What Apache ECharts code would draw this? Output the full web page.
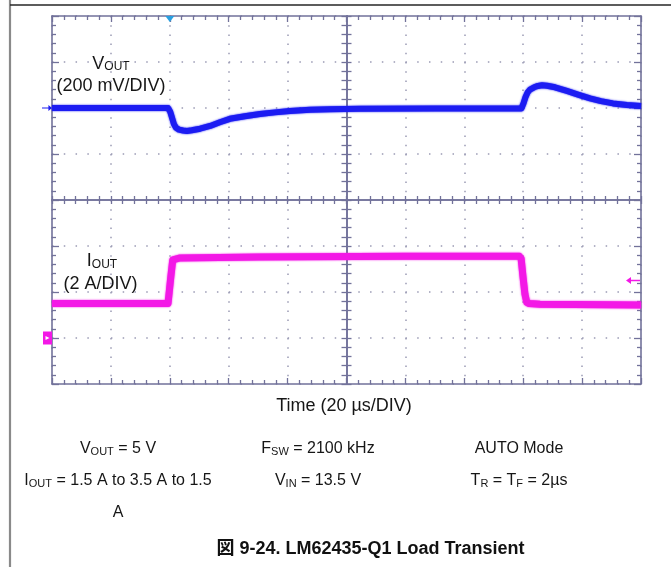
<!DOCTYPE html>
<html>
<head>
<meta charset="utf-8">
<script src="https://cdn.jsdelivr.net/npm/echarts@6/dist/echarts.min.js"></script>
<style>
  html, body { margin: 0; padding: 0; background: #ffffff; }
  #chart { width: 671px; height: 567px; }
</style>
</head>
<body>
<div id="chart"></div>
<script>
// Load-step response captured on a 10 x 8 division scope screen.
// Time base 20 us/div, VOUT 200 mV/div, IOUT 2 A/div.

// VOUT trace (time in us, output voltage in mV)
const voutTimeUs = [0, 20, 39.4, 40.1, 40.7, 41.4, 42.1, 43.1, 44.5, 45.8, 47.5, 50.3, 53.7, 57.0, 60.4, 65.5,
                    70.6, 75.7, 80.8, 87.6, 94.4, 104.6, 130, 159.4,
                    160.1, 160.8, 161.5, 162.3, 163.7, 165.0, 166.4, 168.1, 170.8, 174.8, 178.6, 182.7,
                    186.4, 190.5, 195.2, 200];
const voutMv =     [5000, 5000, 5000, 4985, 4960, 4930, 4914, 4906, 4902, 4900, 4903, 4910, 4922, 4938, 4953, 4964,
                    4974, 4981, 4987, 4992, 4995, 4997, 4998, 4998,
                    5020, 5048, 5068, 5080, 5090, 5096, 5099, 5097, 5090, 5074, 5058, 5042,
                    5030, 5020, 5013, 5009];

// IOUT trace (time in us, load current in A)
const ioutTimeUs = [0, 20, 39.4, 40.3, 41.0, 41.6, 43.5, 70, 120, 158.7, 159.3, 159.9, 160.6, 161.2, 162.0, 165.7, 200];
const ioutA =      [1.5, 1.5, 1.5, 2.6, 3.4, 3.46, 3.48, 3.52, 3.55, 3.55, 3.45, 2.7, 1.9, 1.55, 1.5, 1.47, 1.44];

// Screen scales
const timeRange = { min: 0, max: 200, interval: 20 };       // 10 divisions
const voutRange = { min: 3800, max: 5400, interval: 200 };  // 8 divisions
const ioutRange = { min: -2, max: 14, interval: 2 };        // 8 divisions
const divRange  = { min: 0, max: 8, interval: 1 };

// Channel markers
const voutRefMv = 5000;
const ioutRefA = 0;
const triggerTimeUs = 40;
const triggerLevelA = 2.5;

// Annotation text
const scopeLabels = {
  vout: ['{m|V}{s|OUT}', '{m|(200 mV/DIV)}'],
  iout: ['{m|I}{s|OUT}', '{m|(2 A/DIV)}']
};
const timeLabel = 'Time (20 µs/DIV)';
const conditionRows = [
  ['{m|V}{s|OUT}{m| = 5 V}', '{m|F}{s|SW}{m| = 2100 kHz}', '{m|AUTO Mode}'],
  ['{m|I}{s|OUT}{m| = 1.5 A to 3.5 A to 1.5}', '{m|V}{s|IN}{m| = 13.5 V}', '{m|T}{s|R}{m| = T}{s|F}{m| = 2µs}'],
  ['{m|A}', '', '']
];
const captionText = '図 9-24. LM62435-Q1 Load Transient';

const FONT = "'Liberation Sans', Arial, 'Noto Sans CJK JP', sans-serif";
const FRAME = '#72729a';
const DOT = '#9a9ab4';
const BLUE = '#1c1cf2';
const MAGENTA = '#f318e6';

function frameAxis(kind, position, offset, inside, majorLen, minorLen, split, splitDash) {
  const r = kind === 'x' ? timeRange : divRange;
  return {
    type: 'value', min: r.min, max: r.max, interval: r.interval,
    position: position, offset: offset,
    axisLine: { show: true, onZero: false, lineStyle: { color: FRAME, width: 1.6 } },
    axisTick: { show: true, inside: inside, length: majorLen, lineStyle: { color: FRAME, width: 1.3 } },
    minorTick: { show: true, splitNumber: 5, length: minorLen, lineStyle: { color: FRAME, width: 1.3 } },
    axisLabel: { show: false },
    splitLine: { show: split, lineStyle: { color: DOT, width: 1.5, type: splitDash } },
    minorSplitLine: { show: false },
    silent: true
  };
}

const xAxes = [
  frameAxis('x', 'bottom', 0, true, 6, 4, true, [1.5, 7.7]),
  frameAxis('x', 'top', 0, true, 6, 4, false),
  frameAxis('x', 'bottom', -184, true, 4, 4, false),
  frameAxis('x', 'bottom', -184, false, 4, 4, false)
];

const yAxes = [
  { type: 'value', min: voutRange.min, max: voutRange.max, interval: voutRange.interval, show: false,
    axisLine: { onZero: false } },
  { type: 'value', min: ioutRange.min, max: ioutRange.max, interval: ioutRange.interval, show: false,
    axisLine: { onZero: false } },
  frameAxis('y', 'left', 0, true, 7, 4, true, [1.5, 10.28]),
  frameAxis('y', 'right', 0, true, 7, 4, false),
  frameAxis('y', 'left', -294.5, true, 5, 5, false),
  frameAxis('y', 'left', -294.5, false, 5, 5, false)
];

function pairs(xs, ys) { return xs.map((x, i) => [x, ys[i]]); }

const arrowRight = 'path://M0,4 L9,4 L9,0 L14,5 L9,10 L9,6 L0,6 Z';
const arrowLeft = 'path://M14,4 L5,4 L5,0 L0,5 L5,10 L5,6 L14,6 Z';

function richText(x, y, text, size, subSize) {
  return {
    type: 'text', x: x, y: y, silent: true,
    style: {
      text: text, align: 'center', verticalAlign: 'middle', fill: '#161616',
      rich: {
        m: { fontFamily: FONT, fontSize: size, lineHeight: size + 4, verticalAlign: 'bottom', fill: '#161616' },
        s: { fontFamily: FONT, fontSize: subSize, lineHeight: subSize + 1, verticalAlign: 'bottom', fill: '#161616' }
      }
    }
  };
}

const graphics = [
  { type: 'line', shape: { x1: 10, y1: 0, x2: 10, y2: 567 }, style: { stroke: '#8a8a8a', lineWidth: 2.2 }, silent: true },
  { type: 'line', shape: { x1: 10, y1: 5, x2: 671, y2: 5 }, style: { stroke: '#262626', lineWidth: 1.5 }, silent: true }
];

// Channel labels on the screen
const scopeLabelRich = {
  m: { fontFamily: FONT, fontSize: 18, lineHeight: 22, verticalAlign: 'bottom', fill: '#161616' },
  s: { fontFamily: FONT, fontSize: 12, lineHeight: 16, verticalAlign: 'bottom', fill: '#161616' }
};
[[111, 62, scopeLabels.vout[0]], [111, 84.5, scopeLabels.vout[1]],
 [102, 259.5, scopeLabels.iout[0]], [100.5, 282, scopeLabels.iout[1]]].forEach(function (t) {
  graphics.push({ type: 'text', x: t[0], y: t[1], silent: true,
    style: { text: t[2], align: 'center', verticalAlign: 'middle', rich: scopeLabelRich } });
});

// Axis caption
graphics.push({ type: 'text', x: 344, y: 406, silent: true,
  style: { text: timeLabel, align: 'center', verticalAlign: 'middle', fill: '#161616',
           font: '18px ' + FONT } });

// Test conditions table
const colCenters = [118, 318, 519];
const rowCenters = [447, 479, 511];
conditionRows.forEach(function (row, r) {
  row.forEach(function (cell, c) {
    if (cell) graphics.push(richText(colCenters[c], rowCenters[r], cell, 16, 11));
  });
});

// Figure caption
graphics.push({ type: 'text', x: 370.5, y: 549, silent: true,
  style: { text: captionText, align: 'center', verticalAlign: 'middle', fill: '#111111',
           font: 'bold 18px ' + FONT } });

const option = {
  animation: false,
  backgroundColor: '#ffffff',
  grid: { left: 52, top: 16, width: 589, height: 368, show: false },
  xAxis: xAxes,
  yAxis: yAxes,
  series: [
    {
      name: 'VOUT', type: 'line', xAxisIndex: 0, yAxisIndex: 0,
      data: pairs(voutTimeUs, voutMv),
      showSymbol: false, smooth: false,
      lineStyle: { color: BLUE, width: 6, join: 'round', shadowBlur: 2, shadowColor: BLUE },
      z: 5,
      markPoint: {
        silent: true, label: { show: false },
        data: [
          { coord: [timeRange.min, voutRefMv], symbol: arrowRight, symbolSize: [10, 6],
            symbolOffset: [-5, 0], itemStyle: { color: BLUE } },
          { coord: [triggerTimeUs, voutRange.max], symbol: 'triangle', symbolSize: [9, 6],
            symbolRotate: 180, symbolOffset: [0, 3], itemStyle: { color: '#2a9fe0' } }
        ]
      }
    },
    {
      name: 'IOUT', type: 'line', xAxisIndex: 0, yAxisIndex: 1,
      data: pairs(ioutTimeUs, ioutA),
      showSymbol: false, smooth: false,
      lineStyle: { color: MAGENTA, width: 7, join: 'round', shadowBlur: 2, shadowColor: MAGENTA },
      z: 5,
      markPoint: {
        silent: true, label: { show: false },
        data: [
          { coord: [timeRange.min, ioutRefA], symbol: 'rect', symbolSize: [9, 13],
            symbolOffset: [-4.5, 0], itemStyle: { color: MAGENTA } },
          { coord: [timeRange.min, ioutRefA], symbol: 'triangle', symbolSize: [4, 4],
            symbolRotate: -90, symbolOffset: [-4.5, 0], itemStyle: { color: '#ffffff' } },
          { coord: [timeRange.max, triggerLevelA], symbol: arrowLeft, symbolSize: [14, 7],
            symbolOffset: [-8, 0], itemStyle: { color: MAGENTA } }
        ]
      }
    }
  ],
  graphic: graphics
};

const chart = echarts.init(document.getElementById('chart'), null, { renderer: 'canvas' });
chart.setOption(option);
</script>
</body>
</html>
